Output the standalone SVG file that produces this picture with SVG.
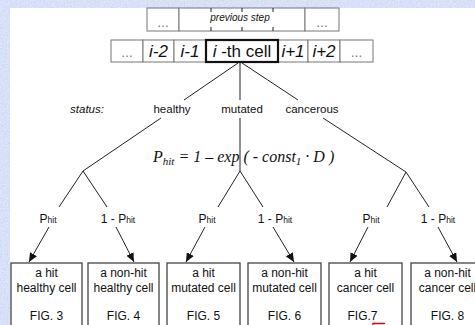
<svg xmlns="http://www.w3.org/2000/svg" width="475" height="325" viewBox="0 0 475 325">
<defs>
<filter id="tex" x="0" y="0" width="100%" height="100%">
<feTurbulence type="fractalNoise" baseFrequency="0.7" numOctaves="2" seed="3"/>
<feColorMatrix type="matrix" values="0.75 0 0 0 0.36  0 0.35 0 0 0.61  0 0 0.2 0 0.86  0 0 0 0 1"/>
</filter>
<marker id="ah" markerUnits="userSpaceOnUse" markerWidth="10" markerHeight="8" refX="9" refY="4" orient="auto">
<path d="M0,0 L9,4 L0,8 Z" fill="#111"/>
</marker>
<style>
.ln{stroke:#222;stroke-width:1;fill:none}
.cell{fill:#fff;stroke:#777;stroke-width:1}
.box{fill:#fff;stroke:#444;stroke-width:1.3}
.t{font-family:"Liberation Sans",Arial,sans-serif;fill:#111;text-anchor:middle}
.dots{font-family:"Liberation Sans",Arial,sans-serif;fill:#666;text-anchor:middle;font-size:12px}
.big{font-size:17px}
.st{font-size:11.5px}
.bx{font-size:12px}
.lab{font-size:12px}
.sm{font-size:8.5px}
.f{font-family:"Liberation Serif","Times New Roman",serif;font-style:italic;font-size:16px;fill:#111}
</style>
</defs>
<rect x="0" y="0" width="475" height="325" fill="#b8c8f0"/>
<rect x="0" y="0" width="475" height="325" filter="url(#tex)" opacity="0.85"/>
<rect x="10" y="8" width="465" height="317" fill="#fff"/>

<g id="prev-row">
<rect class="cell" x="147" y="8" width="32" height="23"/>
<rect class="cell" x="179" y="8" width="126" height="23"/>
<rect class="cell" x="305" y="8" width="34" height="23"/>
<path class="ln" stroke="#777" d="M211,8v4M242,8v4M273,8v4M211,27v4M242,27v4M273,27v4"/>
<text class="dots" x="163" y="27">…</text>
<text class="t" x="240" y="21" font-size="10" font-style="italic" fill="#333">previous step</text>
<text class="dots" x="322" y="27">…</text>
</g>

<g id="cell-row">
<rect class="cell" x="111" y="40" width="32" height="22"/>
<rect class="cell" x="143" y="40" width="31" height="22"/>
<rect class="cell" x="174" y="40" width="32" height="22"/>
<rect class="cell" x="278" y="40" width="30" height="22"/>
<rect class="cell" x="308" y="40" width="32" height="22"/>
<rect class="cell" x="340" y="40" width="33" height="22"/>
<text class="dots" x="127" y="57">…</text>
<text class="t big" x="158.5" y="57" font-style="italic">i-2</text>
<text class="t big" x="190" y="57" font-style="italic">i-1</text>
<text class="t big" x="293" y="57" font-style="italic">i+1</text>
<text class="t big" x="324" y="57" font-style="italic">i+2</text>
<text class="dots" x="356.5" y="57">…</text>
</g>

<g id="ith-cell">
<rect x="206" y="40" width="72" height="22" fill="#fff" stroke="#111" stroke-width="2.2"/>
<text class="t big" x="242" y="57"><tspan font-style="italic">i</tspan> -th cell</text>
</g>

<g id="status">
<text class="t st" x="87" y="113" font-style="italic">status:</text>
<text class="t st" x="172" y="113">healthy</text>
<text class="t st" x="242" y="113">mutated</text>
<text class="t st" x="312" y="113">cancerous</text>
</g>

<g id="formula">
<text class="f" x="153" y="162">P<tspan font-size="11" dy="3">hit</tspan><tspan dy="-3"> = 1 – exp ( - const</tspan><tspan font-size="11" dy="3">1</tspan><tspan dy="-3"> · D )</tspan></text>
</g>

<g id="connectors">
<path class="ln" d="M238,63 L184,100 M240,63 L240,100 M242,63 L298,100"/>
<path class="ln" d="M161,118 L83,171 L59,207 M83,171 L107,207"/>
<path class="ln" d="M240,118 L240,171 L218,207 M240,171 L263,207"/>
<path class="ln" d="M323,118 L406,172 L387,207 M406,172 L429,207"/>
<line class="ln" x1="49" y1="227" x2="29" y2="262" marker-end="url(#ah)"/>
<line class="ln" x1="116" y1="227" x2="134" y2="262" marker-end="url(#ah)"/>
<line class="ln" x1="205" y1="227" x2="186" y2="262" marker-end="url(#ah)"/>
<line class="ln" x1="273" y1="227" x2="294" y2="262" marker-end="url(#ah)"/>
<line class="ln" x1="368" y1="227" x2="350" y2="262" marker-end="url(#ah)"/>
<line class="ln" x1="438" y1="227" x2="457" y2="262" marker-end="url(#ah)"/>
</g>

<g id="labels">
<text class="t lab" x="48" y="223">P<tspan class="sm">hit</tspan></text>
<text class="t lab" x="118" y="223">1 - P<tspan class="sm">hit</tspan></text>
<text class="t lab" x="207" y="223">P<tspan class="sm">hit</tspan></text>
<text class="t lab" x="275" y="223">1 - P<tspan class="sm">hit</tspan></text>
<text class="t lab" x="371" y="223">P<tspan class="sm">hit</tspan></text>
<text class="t lab" x="438" y="223">1 - P<tspan class="sm">hit</tspan></text>
</g>

<g id="fig3">
<rect class="box" x="11" y="263" width="71" height="70"/>
<text class="t bx" x="46.5" y="277">a hit</text>
<text class="t bx" x="46.5" y="292">healthy cell</text>
<text class="t bx" x="46.5" y="320">FIG. 3</text>
</g>
<g id="fig4">
<rect class="box" x="88" y="263" width="71" height="70"/>
<text class="t bx" x="123.5" y="277">a non-hit</text>
<text class="t bx" x="123.5" y="292">healthy cell</text>
<text class="t bx" x="123.5" y="320">FIG. 4</text>
</g>
<g id="fig5">
<rect class="box" x="167" y="263" width="73" height="70"/>
<text class="t bx" x="203.5" y="277">a hit</text>
<text class="t bx" x="203.5" y="292">mutated cell</text>
<text class="t bx" x="203.5" y="320">FIG. 5</text>
</g>
<g id="fig6">
<rect class="box" x="248" y="263" width="73" height="70"/>
<text class="t bx" x="284.5" y="277">a non-hit</text>
<text class="t bx" x="284.5" y="292">mutated cell</text>
<text class="t bx" x="284.5" y="320">FIG. 6</text>
</g>
<g id="fig7">
<rect class="box" x="329" y="263" width="73" height="70"/>
<text class="t bx" x="365.5" y="277">a hit</text>
<text class="t bx" x="365.5" y="292">cancer cell</text>
<text class="t bx" x="362.5" y="320">FIG.7</text>
<path d="M372,324.5 q2,-1.5 4,-1 L385,323.5" stroke="#e00" stroke-width="1.5" fill="none"/>
</g>
<g id="fig8">
<rect class="box" x="411" y="263" width="73" height="70"/>
<text class="t bx" x="447.5" y="277">a non-hit</text>
<text class="t bx" x="447.5" y="292">cancer cell</text>
<text class="t bx" x="447.5" y="320">FIG. 8</text>
</g>
</svg>
